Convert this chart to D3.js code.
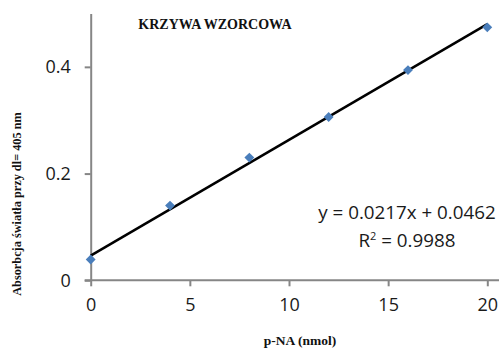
<!DOCTYPE html>
<html>
<head>
<meta charset="utf-8">
<script src="https://cdn.jsdelivr.net/npm/d3@7"></script>
<style>
  body { margin: 0; background: #fff; }
  svg { display: block; }
</style>
</head>
<body>
<div id="chart"></div>
<script>
// p-NA amount (nmol) and measured absorbance
const pna = [0, 4, 8, 12, 16, 20];
const absorbance = [0.039, 0.140, 0.230, 0.306, 0.394, 0.474];
// linear trendline from the chart
const slope = 0.0217;
const intercept = 0.0462;
const xTicks = [0, 5, 10, 15, 20];
const yTicks = [0, 0.2, 0.4];

const width = 499, height = 349;
const svg = d3.select("#chart").append("svg")
  .attr("width", width)
  .attr("height", height);

const x = d3.scaleLinear().domain([0, 20]).range([90.7, 487.3]);
const y = d3.scaleLinear().domain([0, 0.5]).range([280.3, 13.5]);

const axisColor = "#868686";

// x axis
const gx = svg.append("g")
  .attr("transform", `translate(0, ${y(0)})`)
  .call(d3.axisBottom(x).tickValues(xTicks).tickSize(6).tickSizeOuter(0).tickPadding(12)
    .tickFormat(d3.format("d")));
gx.select(".domain").remove();
gx.append("line")
  .attr("x1", x(0) - 6).attr("x2", width)
  .attr("stroke", axisColor).attr("stroke-width", 2);

// y axis
const gy = svg.append("g")
  .attr("transform", `translate(${x(0)}, 0)`)
  .call(d3.axisLeft(y).tickValues(yTicks).tickSize(6).tickSizeOuter(0).tickPadding(14)
    .tickFormat(d => d === 0 ? "0" : d3.format(".1f")(d)));
gy.select(".domain")
  .attr("stroke", axisColor).attr("stroke-width", 2);

svg.selectAll(".tick line").attr("stroke", axisColor).attr("stroke-width", 2);
svg.selectAll(".tick text")
  .attr("fill", "#1a1a1a")
  .style("font-family", "'Open Sans', sans-serif")
  .style("font-size", "18px");

// trendline
svg.append("line")
  .attr("x1", x(0)).attr("y1", y(intercept))
  .attr("x2", x(20)).attr("y2", y(intercept + slope * 20))
  .attr("stroke", "#000").attr("stroke-width", 2.5);

// markers
svg.selectAll(".pt")
  .data(pna.map((d, i) => [d, absorbance[i]]))
  .join("path")
  .attr("class", "pt")
  .attr("d", d3.symbol().type(d3.symbolDiamond2).size(62))
  .attr("transform", d => `translate(${x(d[0])}, ${y(d[1])})`)
  .attr("fill", "#4a7ebb");

// title
svg.append("text")
  .attr("x", 215).attr("y", 29)
  .attr("text-anchor", "middle")
  .style("font-family", "'Liberation Serif', serif")
  .style("font-weight", "bold")
  .style("font-size", "14px")
  .attr("fill", "#111")
  .text("KRZYWA WZORCOWA");

// axis titles
svg.append("text")
  .attr("transform", "translate(21, 204) rotate(-90)")
  .attr("text-anchor", "middle")
  .style("font-family", "'Liberation Serif', serif")
  .style("font-weight", "bold")
  .style("font-size", "12.3px")
  .attr("fill", "#111")
  .text("Absorbcja światła przy dl= 405 nm");

svg.append("text")
  .attr("x", 300).attr("y", 345)
  .attr("text-anchor", "middle")
  .style("font-family", "'Liberation Serif', serif")
  .style("font-weight", "bold")
  .style("font-size", "13.5px")
  .attr("fill", "#111")
  .text("p-NA (nmol)");

// trendline equation
const eq = svg.append("g")
  .style("font-family", "'Open Sans', sans-serif")
  .style("font-size", "18.8px")
  .attr("fill", "#1a1a1a")
  .attr("text-anchor", "middle");
eq.append("text")
  .attr("x", 407).attr("y", 219)
  .text(`y = ${slope}x + ${intercept}`);
const r2 = eq.append("text")
  .attr("x", 407).attr("y", 247);
r2.append("tspan").text("R");
r2.append("tspan").attr("dy", -7).style("font-size", "11px").text("2");
r2.append("tspan").attr("dy", 7).text(" = 0.9988");
</script>
</body>
</html>
